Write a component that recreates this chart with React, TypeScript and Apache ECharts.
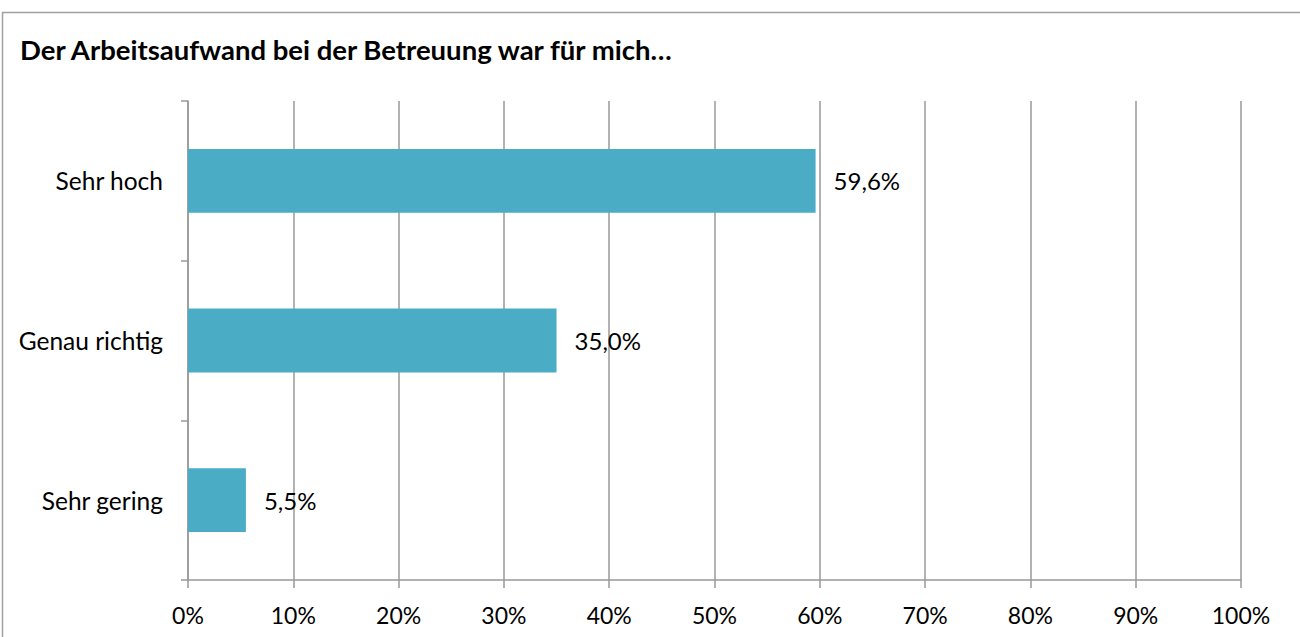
import React, { useEffect, useRef } from "react";
import * as echarts from "echarts";

const titleText = "Der Arbeitsaufwand bei der Betreuung war für mich…";
const categories = ["Sehr hoch", "Genau richtig", "Sehr gering"];
const values = [59.6, 35.0, 5.5];
const xTicks = [0, 10, 20, 30, 40, 50, 60, 70, 80, 90, 100];

const FONT = "Lato, 'Open Sans', sans-serif";
const GRAY = "#999999";

export default function App() {
  const ref = useRef<HTMLDivElement>(null);
  useEffect(() => {
    if (!ref.current) return;
    const chart = echarts.init(ref.current, undefined, { renderer: "svg" });
    chart.setOption({
      animation: false,
      backgroundColor: "#ffffff",
      title: {
        text: titleText,
        left: 15,
        top: 30,
        textStyle: { fontFamily: FONT, fontSize: 27.5, fontWeight: "bold", color: "#000" },
      },
      graphic: [
        {
          type: "rect",
          shape: { x: 2.5, y: 12.5, width: 1400, height: 800 },
          style: { fill: "none", stroke: "#a0a0a0", lineWidth: 1.5 },
          silent: true,
        },
      ],
      grid: { left: 188, right: 59, top: 101, bottom: 57 },
      xAxis: {
        type: "value",
        min: 0,
        max: 100,
        interval: 10,
        axisLine: { show: true, lineStyle: { color: GRAY, width: 1.5 } },
        axisTick: { show: true, length: 8, lineStyle: { color: GRAY, width: 1.5 } },
        splitLine: { show: true, lineStyle: { color: GRAY, width: 1.5 } },
        axisLabel: {
          margin: 23,
          fontFamily: FONT,
          fontSize: 23,
          color: "#000",
          formatter: (v: number) => (xTicks.includes(v) ? v + "%" : ""),
        },
      },
      yAxis: {
        type: "category",
        inverse: true,
        data: categories,
        axisLine: { show: true, lineStyle: { color: GRAY, width: 1.5 } },
        axisTick: { show: true, length: 7, lineStyle: { color: GRAY, width: 1.5 } },
        axisLabel: { margin: 25, fontFamily: FONT, fontSize: 24.5, color: "#000" },
      },
      series: [
        {
          type: "bar",
          data: values,
          barWidth: "40%",
          itemStyle: { color: "#4BACC6" },
          label: {
            show: true,
            position: "right",
            distance: 18,
            fontFamily: FONT,
            fontSize: 24,
            color: "#000",
            formatter: (p: any) => p.value.toFixed(1).replace(".", ",") + "%",
          },
        },
      ],
    });
    return () => chart.dispose();
  }, []);
  return (
    <div
      ref={ref}
      style={{ position: "fixed", left: 0, top: 0, width: 1300, height: 637 }}
    />
  );
}
